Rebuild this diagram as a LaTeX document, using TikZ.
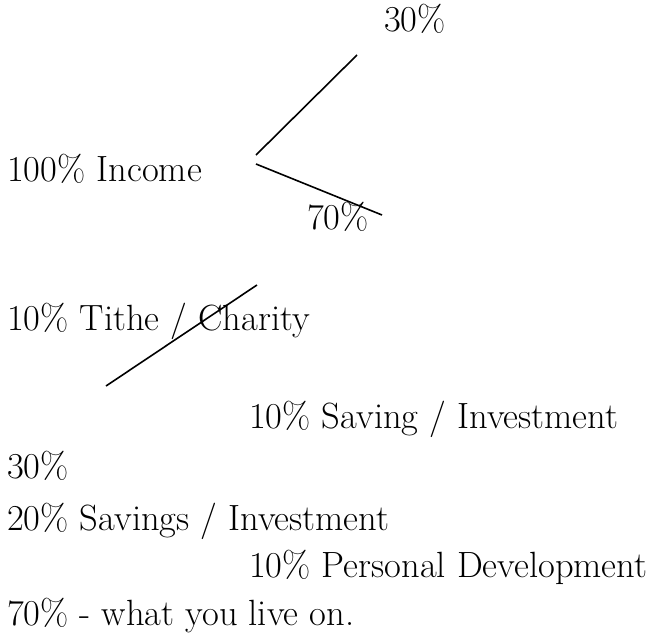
\documentclass[tikz,border=0pt]{standalone}
\begin{document}
\begin{tikzpicture}[x=1pt,y=-1pt,
  lbl/.style={anchor=base west,inner sep=0pt,font=\fontsize{36.5}{44}\selectfont},
  stroke/.style={line width=1.6pt,black}]
\useasboundingbox[fill=white] (0,0) rectangle (656,635);
\node[lbl] (top30) at (384,31) {30\%};
\node[lbl] (income) at (7,181) {100\% Income};
\node[lbl] (top70) at (307,229) {70\%};
\node[lbl] (tithe) at (7,330) {10\% Tithe / Charity};
\node[lbl] (saving) at (249,428) {10\% Saving / Investment};
\node[lbl] (thirty) at (7,478) {30\%};
\node[lbl] (savings) at (7,530) {20\% Savings / Investment};
\node[lbl] (personal) at (249,577) {10\% Personal Development};
\node[lbl] (live) at (7,625) {70\% - what you live on.};
\coordinate (a1) at (357,55);
\coordinate (a2) at (256,155);
\coordinate (b1) at (256,164);
\coordinate (b2) at (382,215);
\coordinate (c1) at (257,285);
\coordinate (c2) at (106,386);
\draw[stroke] (a1) -- (a2);
\draw[stroke] (b1) -- (b2);
\draw[stroke] (c1) -- (c2);
\end{tikzpicture}
\end{document}
